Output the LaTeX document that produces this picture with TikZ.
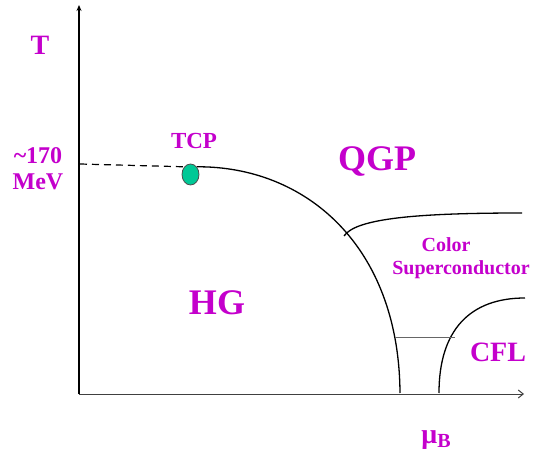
\documentclass[tikz,border=0pt]{standalone}
\usepackage{fontspec}
\setmainfont{Liberation Serif}
\usepackage{xcolor}
\usepackage{tikz}
\usetikzlibrary{arrows.meta,shapes.geometric}
\definecolor{phaselabel}{RGB}{196,0,204}
\definecolor{tcpgreen}{RGB}{0,200,150}

\begin{document}
\begin{tikzpicture}[x=1pt, y=-1pt, line width=1.3pt,
    every node/.style={text=phaselabel, font=\bfseries, inner sep=0pt}]
   \useasboundingbox (0,0) rectangle (544,457);
    % Axes
    \coordinate (origin) at (79,394);
    \coordinate (ytop) at (79,5);
    \coordinate (xend) at (524,394);
    \draw[-{Stealth[length=6pt,width=5pt]}] (origin) -- (ytop);
    \draw[-{Straight Barb[length=5pt,width=8pt]}, line width=1pt, black!75] (origin) -- (xend);
    \node[font=\bfseries\fontsize{28}{28}\selectfont] (tlabel) at (40,45) {T};
    \node[font=\bfseries\fontsize{28}{28}\selectfont] (mulabel) at (436,440) {μ\raisebox{-0.35ex}{\fontsize{20}{20}\selectfont B}};

    % Temperature mark
    \node[font=\bfseries\fontsize{24}{24}\selectfont] (tc) at (38,156) {\textasciitilde170};
    \node[font=\bfseries\fontsize{24}{24}\selectfont] (mev) at (38,182) {MeV};

    % Crossover and first order line
    \coordinate (tcross) at (80,164);
    \node[draw=black!70, line width=0.8pt, fill=tcpgreen, ellipse, minimum width=17pt, minimum height=21pt] (tcp) at (190.5,174.5) {};
    \node[font=\bfseries\fontsize{23}{23}\selectfont] (tcplabel) at (194,141) {TCP};
    \coordinate (hgend) at (400,393);
    \draw[dashed, line width=1.2pt, dash pattern=on 7pt off 5pt] (tcross) -- (tcp.north west);
    \draw (tcp.north east) .. controls (305,166) and (399,245) .. (hgend);

    % Superconducting phases
    \coordinate (csstart) at (344,236);
    \coordinate (csend) at (522,213);
    \draw (csstart) .. controls (356,218) and (420,213) .. (csend);
    \coordinate (cflstart) at (439,393);
    \coordinate (cflend) at (525,298);
    \draw (cflstart) .. controls (439,330) and (470,298) .. (cflend);
    \coordinate (tiel) at (395,337);
    \coordinate (tier) at (455,337);
    \draw[line width=0.7pt, black!60] (tiel) -- (tier);

    % Phase labels
    \node[font=\bfseries\fontsize{36}{36}\selectfont] (qgp) at (377,162) {QGP};
    \node[font=\bfseries\fontsize{36}{36}\selectfont] (hg) at (217,303) {HG};
    \node[font=\bfseries\fontsize{20}{20}\selectfont] (color) at (446,245) {Color};
    \node[font=\bfseries\fontsize{20}{20}\selectfont] (sc) at (461,270) {Superconductor};
    \node[font=\bfseries\fontsize{28}{28}\selectfont] (cfl) at (498,352) {CFL};
\end{tikzpicture}
\end{document}
